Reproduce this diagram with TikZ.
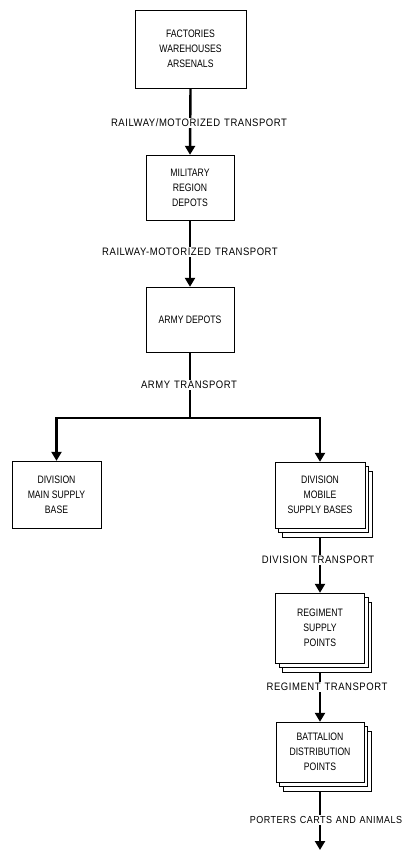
\documentclass[tikz,border=0pt]{standalone}
\usepackage{fontspec}
\setmainfont[FakeStretch=0.86]{Liberation Sans}
\newfontfamily\boxfont[FakeStretch=0.8]{Liberation Sans}
\newfontfamily\lblfont[FakeStretch=0.88,LetterSpace=5,WordSpace=1.25]{Liberation Sans}
\usetikzlibrary{arrows.meta, positioning, shadows, backgrounds}

\begin{document}
\begin{tikzpicture}[
    x=1pt, y=-1pt,
    box/.style={rectangle,draw,thin,fill=white,align=center,inner sep=2pt,
        font=\boxfont\fontsize{10.8}{15}\selectfont},
    stack/.style={box,double copy shadow={shadow xshift=3.5pt,shadow yshift=-4.5pt}},
    flow/.style={line width=2.4pt,-{Triangle[width=10pt,length=9pt]}},
    lbl/.style={fill=white,inner sep=1pt,font=\lblfont\fontsize{10.8}{13}\selectfont}
    ]
    \useasboundingbox (0,0) rectangle (404,857);

    % Supply points
    \node[box, minimum width=111pt, minimum height=78pt] (fact) at (190.5,49) {FACTORIES\\WAREHOUSES\\ARSENALS};
    \node[box, minimum width=88pt, minimum height=65pt] (mil) at (190,187.5) {MILITARY\\REGION\\DEPOTS};
    \node[box, minimum width=88pt, minimum height=65pt] (army) at (190,319.5) {ARMY DEPOTS};
    \node[box, minimum width=89pt, minimum height=67pt] (dmain) at (56.5,494.5) {DIVISION\\MAIN SUPPLY\\BASE};
    \node[stack, minimum width=90pt, minimum height=66pt] (dmob) at (320,495) {DIVISION\\MOBILE\\SUPPLY BASES};
    \node[stack, minimum width=89pt, minimum height=70pt] (regt) at (320,628) {REGIMENT\\SUPPLY\\POINTS};
    \node[stack, minimum width=88pt, minimum height=60pt] (batt) at (320,752) {BATTALION\\DISTRIBUTION\\POINTS};
    \coordinate (end) at (320,850);

    % Transport arrows
    \begin{pgfonlayer}{background}
        \draw[flow] (fact.south) -- (mil.north);
        \draw[flow] (mil.south) -- (army.north);
        \draw[flow] (army.south) -- (190,418) -| (dmain.north);
        \draw[flow] (army.south) -- (190,418) -| (dmob.north);
        \draw[flow] (dmob.south) -- (regt.north);
        \draw[flow] (regt.south) -- (batt.north);
        \draw[flow] (batt.south) -- (end);
    \end{pgfonlayer}

    % Means of transport
    \node[lbl] (rail1) at (199,123) {RAILWAY/MOTORIZED TRANSPORT};
    \node[lbl] (rail2) at (190,252) {RAILWAY-MOTORIZED TRANSPORT};
    \node[lbl] (armyt) at (189,385) {ARMY TRANSPORT};
    \node[lbl] (divt) at (318,560) {DIVISION TRANSPORT};
    \node[lbl] (regtt) at (327,687) {REGIMENT TRANSPORT};
    \node[lbl, font=\lblfont\fontsize{10.2}{13}\selectfont] (port) at (326,820) {PORTERS CARTS AND ANIMALS};
\end{tikzpicture}
\end{document}
